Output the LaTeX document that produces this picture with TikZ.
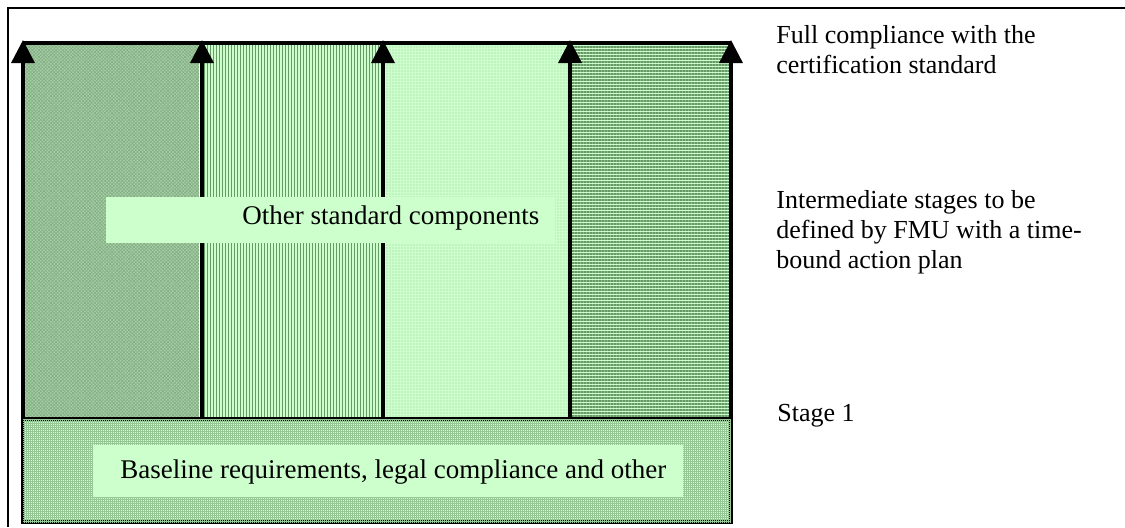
\documentclass[tikz,border=0pt]{standalone}
\usepackage{fontspec}
\setmainfont{Liberation Serif}
\usetikzlibrary{arrows.meta,patterns.meta}
\definecolor{palegreen}{RGB}{204,255,204}
\definecolor{darkgreen}{RGB}{102,153,102}
\definecolor{sagegreen}{RGB}{165,207,165}
\definecolor{dotgreen}{RGB}{150,200,150}

\begin{document}
\begin{tikzpicture}[x=0.5pt,y=-0.5pt,
  stage arrow/.style={line width=1.7pt,-{Triangle[width=11.5pt,length=11.5pt]}},
  label text/.style={font=\fontsize{13.5pt}{15pt}\selectfont,inner sep=0pt,anchor=base west,align=left},
  side text/.style={label text,font=\fontsize{13pt}{15pt}\selectfont},
  text box/.style={fill=palegreen,inner sep=0pt,anchor=north west}]

  \useasboundingbox (0,0) rectangle (1125,527);

  % outer frame
  \draw[line width=1pt] (1125,8) -- (8,8) -- (8,527);

  % component columns
  \path[fill=sagegreen,
    postaction={pattern={Lines[angle=45,distance=1.2pt,line width=0.3pt]},pattern color=darkgreen!80},
    postaction={pattern={Lines[angle=-45,distance=1.2pt,line width=0.3pt]},pattern color=darkgreen!80}]
    (23,43) rectangle (199,419);
  \path[fill=palegreen,
    postaction={pattern={Lines[angle=90,distance=1.5pt,line width=0.5pt]},pattern color=darkgreen}]
    (202,43) rectangle (383,419);
  \path[fill=palegreen,
    postaction={pattern={Dots[radius=0.3pt,distance=1.5pt]},pattern color=dotgreen}]
    (383,43) rectangle (570,419);
  \path[fill=palegreen,
    postaction={pattern={Lines[angle=0,distance=1.5pt,line width=0.6pt]},pattern color=darkgreen}]
    (570,43) rectangle (731,419);

  % baseline band
  \path[draw,line width=1.7pt,fill=palegreen,
    postaction={pattern={Hatch[distance=1pt,line width=0.3pt]},pattern color=dotgreen}]
    (23,419) rectangle (731,522);

  \draw[line width=1.7pt] (23,43) -- (731,43);

  % stage arrows
  \coordinate (b1) at (23,419);
  \coordinate (b2) at (202,419);
  \coordinate (b3) at (383,419);
  \coordinate (b4) at (570,419);
  \coordinate (b5) at (731,419);
  \coordinate (t1) at (23,40);
  \coordinate (t2) at (202,40);
  \coordinate (t3) at (383,40);
  \coordinate (t4) at (570,40);
  \coordinate (t5) at (731,40);
  \draw[stage arrow] (b1) -- (t1);
  \draw[stage arrow] (b2) -- (t2);
  \draw[stage arrow] (b3) -- (t3);
  \draw[stage arrow] (b4) -- (t4);
  \draw[stage arrow] (b5) -- (t5);

  % text boxes
  \node[text box,minimum width=224.5pt,minimum height=23pt] (otherbox) at (106,197) {};
  \node[label text] (other) at (242,224) {Other standard components};
  \node[text box,minimum width=295pt,minimum height=26pt] (basebox) at (93,445) {};
  \node[label text] (base) at (120,478) {Baseline requirements, legal compliance and other};

  % stage labels (anchor is the last line's baseline)
  \node[side text] (full) at (776,73) {Full compliance with the\\certification standard};
  \node[side text] (inter) at (776,268) {Intermediate stages to be\\defined by FMU with a time-\\bound action plan};
  \node[side text] (stage1) at (777,421) {Stage 1};
\end{tikzpicture}
\end{document}
